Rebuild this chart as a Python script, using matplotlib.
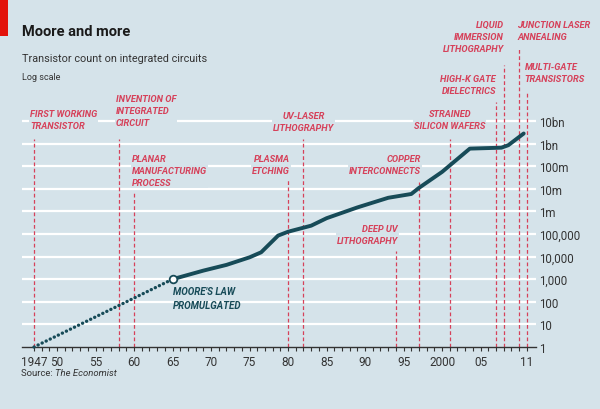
import matplotlib
matplotlib.use("Agg")
import matplotlib.pyplot as plt
from matplotlib.patches import Rectangle
from matplotlib.ticker import FixedLocator, NullFormatter

# data
extrapolated_years = [1947, 1965]
extrapolated_counts = [1, 1000]

chip_years = [1965, 1969, 1972, 1975, 1976.5, 1978.7, 1980, 1983, 1985, 1989,
              1993, 1996, 1997, 2000, 2003.6, 2007.7, 2008.6, 2010.6]
chip_counts = [1000, 2400, 4300, 9300, 15500, 85000, 126000, 234000, 500000, 1.5e6,
               4e6, 5.9e6, 1.1e7, 5.6e7, 6e8, 6.6e8, 8.5e8, 2.8e9]

event_years = [1947, 1958, 1960, 1980, 1982, 1994, 1997, 2001, 2007, 2008, 2010, 2011]
event_labels = ["FIRST WORKING\nTRANSISTOR",
                "INVENTION OF\nINTEGRATED\nCIRCUIT",
                "PLANAR\nMANUFACTURING\nPROCESS",
                "PLASMA\nETCHING",
                "UV-LASER\nLITHOGRAPHY",
                "DEEP UV\nLITHOGRAPHY",
                "COPPER\nINTERCONNECTS",
                "STRAINED\nSILICON WAFERS",
                "HIGH-K GATE\nDIELECTRICS",
                "LIQUID\nIMMERSION\nLITHOGRAPHY",
                "JUNCTION LASER\nANNEALING",
                "MULTI-GATE\nTRANSISTORS"]

y_ticks = [1, 10, 100, 1e3, 1e4, 1e5, 1e6, 1e7, 1e8, 1e9, 1e10]
y_tick_labels = ["1", "10", "100", "1,000", "10,000", "100,000", "1m", "10m", "100m", "1bn", "10bn"]
x_ticks = [1947, 1950, 1955, 1960, 1965, 1970, 1975, 1980, 1985, 1990, 1995, 2000, 2005, 2011]
x_tick_labels = ["1947", "50", "55", "60", "65", "70", "75", "80", "85", "90", "95", "2000", "05", "11"]

# layout: (horizontal alignment, x nudge px, label top px, line top px)
event_layout = [("left", -4, 110, 140), ("left", -3, 95, 140), ("left", -2, 155, 193),
                ("right", 2, 155, 180), ("center", 0, 112, 140), ("right", 2, 225, 252),
                ("right", 2, 155, 183), ("center", 0, 110, 140), ("right", 0, 75, 103),
                ("right", 0, 21, 66), ("left", -2, 21, 50), ("left", -2, 63, 93)]

BG = "#d5e3ea"
RED = "#d6415a"
TEAL = "#174b58"
FONT = ["Roboto", "DejaVu Sans"]

W, H = 600, 410
fig = plt.figure(figsize=(6, 4.1), dpi=100, facecolor=BG)
ax_left, ax_right, ax_bottom, ax_top = 22, 536, 348, 9
ax = fig.add_axes([ax_left / W, (H - ax_bottom) / H, (ax_right - ax_left) / W, (ax_bottom - ax_top) / H])
ax.set_facecolor(BG)
ax.set_yscale("log")
ax.set_ylim(1, 10 ** ((ax_bottom - ax_top) / 22.6))
px_per_year = 7.7
ax.set_xlim(1947 - (34 - ax_left) / px_per_year, 1947 + (ax_right - 34) / px_per_year)

for s in ["top", "left", "right"]:
    ax.spines[s].set_visible(False)
ax.spines["bottom"].set_color("#333333")
ax.spines["bottom"].set_linewidth(1.0)

# white gridlines
for v in y_ticks[1:]:
    ax.axhline(v, color="white", lw=1.6, zorder=1)

ax.yaxis.tick_right()
ax.yaxis.set_major_locator(FixedLocator(y_ticks))
ax.yaxis.set_minor_locator(FixedLocator([]))
ax.set_yticklabels(y_tick_labels)
ax.tick_params(axis="y", length=0, pad=2, labelsize=8.3, labelcolor="#333333")
ax.set_xticks(x_ticks)
ax.set_xticklabels(x_tick_labels)
ax.xaxis.set_minor_locator(FixedLocator(list(range(1947, 2012))))
ax.xaxis.set_minor_formatter(NullFormatter())
ax.tick_params(axis="x", which="both", direction="out", length=3, width=0.8,
               color="#333333", pad=2.5, labelsize=8.5, labelcolor="#333333")
for lab in ax.get_xticklabels() + ax.get_yticklabels():
    lab.set_family(FONT)

# events
xt = ax.get_xaxis_transform()
to_frac = lambda py: (ax_bottom - py) / (ax_bottom - ax_top)
for yr, txt, (ha, dx, ytop, ltop) in zip(event_years, event_labels, event_layout):
    ax.vlines(yr, 0, to_frac(ltop), transform=xt, color=RED, lw=0.9,
              linestyles=(0, (3, 2)), zorder=2)
    ax.text(yr + dx / px_per_year, to_frac(ytop), txt, transform=xt, ha=ha, va="top",
            ma=ha, color=RED, fontsize=6.7, style="italic", fontweight="bold",
            family=FONT, linespacing=1.4, zorder=3, clip_on=False,
            bbox=dict(boxstyle="square,pad=0.1", fc=BG, ec="none"))

# transistor count line
ax.plot(extrapolated_years, extrapolated_counts, color=TEAL, lw=2.4,
        linestyle=(0, (0.05, 1.3)), dash_capstyle="round", zorder=4, clip_on=False)
ax.plot(chip_years, chip_counts, color=TEAL, lw=2.8, zorder=4,
        solid_capstyle="round", solid_joinstyle="round")
ax.plot(chip_years[:1], chip_counts[:1], "o", ms=5.5, mfc="white", mec=TEAL, mew=1.3, zorder=5)
ax.text(chip_years[0], to_frac(287), "MOORE'S LAW\nPROMULGATED", transform=xt,
        ha="left", va="top", color=TEAL, fontsize=7, style="italic", fontweight="bold",
        family=FONT, linespacing=1.5, zorder=5)

# header
fig.add_artist(Rectangle((0, 1 - 37 / H), 8 / W, 37 / H, transform=fig.transFigure,
                         color="#e3120b", lw=0))
fig.text(22 / W, 1 - 36 / H, "Moore and more", fontsize=10.5, fontweight="bold",
         family=FONT, color="#1a1a1a", va="baseline")
fig.text(22 / W, 1 - 62 / H, "Transistor count on integrated circuits", fontsize=7.8,
         family=FONT, color="#333333", va="baseline")
fig.text(22 / W, 1 - 80 / H, "Log scale", fontsize=6.5, family=FONT,
         color="#333333", va="baseline")

# source
src = fig.text(21 / W, 1 - 376 / H, "Source: ", fontsize=6.8, family=FONT,
               color="#333333", va="baseline")
fig.canvas.draw()
ax.annotate("The Economist", xy=(1, 0), xycoords=src, va="bottom", ha="left",
            fontsize=6.8, family=FONT, style="italic", color="#333333",
            annotation_clip=False)

fig.savefig("out.png", dpi=100, facecolor=BG)
